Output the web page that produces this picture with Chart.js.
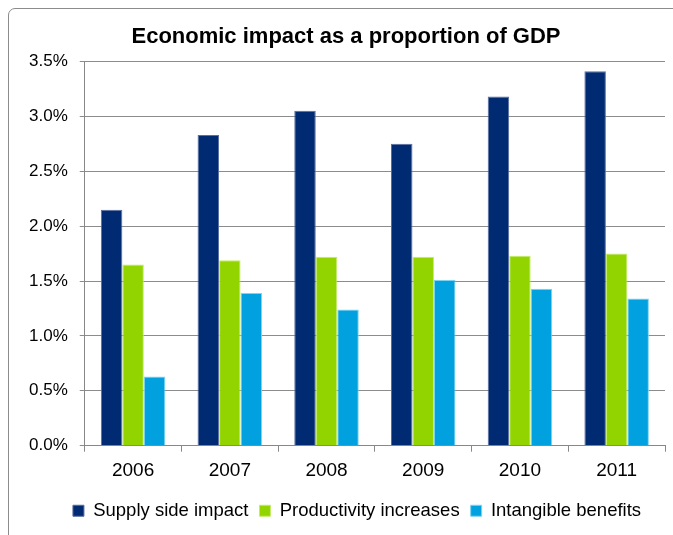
<!DOCTYPE html>
<html>
<head>
<meta charset="utf-8">
<script src="https://cdn.jsdelivr.net/npm/chart.js@4.4.1/dist/chart.umd.min.js"></script>
<style>
  html, body { margin: 0; padding: 0; background: #fff; overflow: hidden; }
  #wrap { position: relative; width: 673px; height: 535px; }
  #frame { position: absolute; left: 8px; top: 8px; width: 700px; height: 600px;
           border: 1px solid #8c8c8c; border-radius: 7px; }
  canvas { position: absolute; left: 0; top: 0; }
</style>
</head>
<body>
<div id="wrap">
  <div id="frame"></div>
  <canvas id="chart" width="673" height="535"></canvas>
</div>
<script>
const years = ["2006", "2007", "2008", "2009", "2010", "2011"];
const supplySide = [2.15, 2.83, 3.05, 2.75, 3.18, 3.41];
const productivity = [1.65, 1.69, 1.72, 1.72, 1.73, 1.75];
const intangible = [0.63, 1.39, 1.24, 1.51, 1.43, 1.34];

const font = "'Liberation Sans', Arial, sans-serif";

// nudge title and legend to the right, like the original
const shiftBlocks = {
  id: "shiftBlocks",
  afterLayout(chart) {
    chart.legend.left += 16;
    chart.legend.right += 16;
    chart.titleBlock.left += 5;
    chart.titleBlock.right += 5;
  }
};

const ctx = document.getElementById("chart").getContext("2d");
new Chart(ctx, {
  type: "bar",
  data: {
    labels: years,
    datasets: [
      { label: "Supply side impact", data: supplySide, backgroundColor: "#002A72", borderColor: "#5a6ea0", borderWidth: 1 },
      { label: "Productivity increases", data: productivity, backgroundColor: "#92D400", borderColor: "#c4ec6a", borderWidth: 1 },
      { label: "Intangible benefits", data: intangible, backgroundColor: "#00A1DE", borderColor: "#7fd3f2", borderWidth: 1 }
    ]
  },
  plugins: [shiftBlocks],
  options: {
    responsive: false,
    animation: false,
    layout: { padding: { left: 17, right: 8, top: 14, bottom: 5 } },
    datasets: { bar: { categoryPercentage: 0.667, barPercentage: 1.0 } },
    plugins: {
      title: {
        display: true,
        text: "Economic impact as a proportion of GDP",
        color: "#000",
        font: { family: font, size: 22, weight: "bold" },
        padding: { top: 10, bottom: 11 }
      },
      legend: {
        position: "bottom",
        labels: {
          color: "#000",
          font: { family: font, size: 18.5 },
          boxWidth: 11,
          boxHeight: 11,
          padding: 11
        }
      },
      tooltip: { enabled: false }
    },
    scales: {
      x: {
        grid: { display: true, drawOnChartArea: false, offset: true, color: "#888", tickLength: 6 },
        border: { color: "#888" },
        ticks: { color: "#000", font: { family: font, size: 19 }, padding: 8 }
      },
      y: {
        min: 0,
        max: 3.5,
        grid: { color: "#8c8c8c", tickLength: 5 },
        border: { color: "#888" },
        ticks: {
          stepSize: 0.5,
          color: "#000",
          font: { family: font, size: 17 },
          padding: 12,
          callback: v => v.toFixed(1) + "%"
        }
      }
    }
  }
});
</script>
</body>
</html>
